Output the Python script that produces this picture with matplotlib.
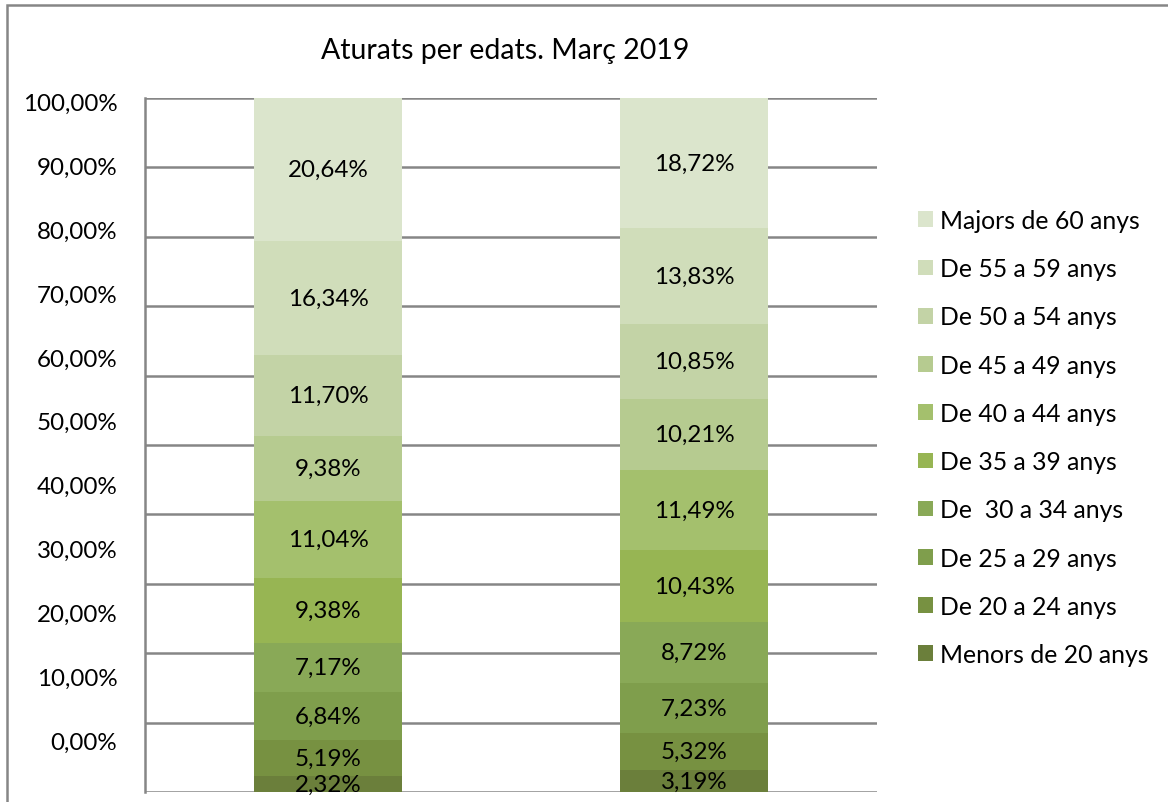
import matplotlib
matplotlib.use("Agg")
import matplotlib.pyplot as plt
from matplotlib.patches import Patch, Rectangle
import numpy as np

plt.rcParams['font.family'] = ['Lato', 'DejaVu Sans']

# data, bottom segment first
groups = ['Menors de 20 anys', 'De 20 a 24 anys', 'De 25 a 29 anys', 'De  30 a 34 anys',
          'De 35 a 39 anys', 'De 40 a 44 anys', 'De 45 a 49 anys', 'De 50 a 54 anys',
          'De 55 a 59 anys', 'Majors de 60 anys']
serie_1 = [2.32, 5.19, 6.84, 7.17, 9.38, 11.04, 9.38, 11.70, 16.34, 20.64]
serie_2 = [3.19, 5.32, 7.23, 8.72, 10.43, 11.49, 10.21, 10.85, 13.83, 18.72]
yticks = [0, 10, 20, 30, 40, 50, 60, 70, 80, 90, 100]

colors = ['#6b7f3b', '#779141', '#7f9e4c', '#89a957', '#97b553',
          '#a4c06d', '#b6cb90', '#c3d3a6', '#d0ddba', '#dbe5cc']
grid_c = '#868686'

fig = plt.figure(figsize=(11.68, 8.03), dpi=100)
W, H = 1168, 803

# outer chart frame (cropped on the right and bottom)
fig.patches.append(Rectangle((7 / W, -0.05), 1.2, 1 - 6 / H + 0.05, transform=fig.transFigure,
                             fill=False, edgecolor=grid_c, linewidth=1.8))

ax = fig.add_axes([145 / W, 1 - 793 / H, (877 - 145) / W, (793 - 99) / H])
ax.set_xlim(-0.5, 1.5)
ax.set_ylim(0, 100)

for y in yticks:
    ax.axhline(y, color=grid_c, linewidth=1.8, zorder=1)

x = np.arange(2)
bottoms = np.zeros(2)
for i in range(len(groups)):
    vals = np.array([serie_1[i], serie_2[i]])
    ax.bar(x, vals, 0.404, bottom=bottoms, color=colors[i], zorder=2, label=groups[i])
    for xi, v, b in zip(x, vals, bottoms):
        ax.text(xi, b + v / 2, f'{v:.2f}'.replace('.', ',') + '%', ha='center', va='center',
                fontsize=17.4, color='black', zorder=3)
    bottoms = bottoms + vals

ax.set_xticks([])
ax.set_yticks([])
for s in ['top', 'right', 'bottom']:
    ax.spines[s].set_visible(False)
ax.spines['left'].set_color(grid_c)
ax.spines['left'].set_linewidth(1.8)

# value axis labels (as placed in the original picture)
ax2 = ax.twinx()
ax2.set_ylim(-8.15, 100.58)
ax2.yaxis.set_ticks_position('left')
ax2.set_yticks(yticks)
ax2.set_yticklabels([f'{t:.2f}'.replace('.', ',') + '%' for t in yticks], fontsize=17.4)
ax2.tick_params(axis='y', length=0, pad=20)
for s in ax2.spines.values():
    s.set_visible(False)

fig.text(505 / W, 1 - 51 / H, 'Aturats per edats. Març 2019', ha='center', va='center', fontsize=20.5)

handles = [Patch(facecolor=colors[i], edgecolor='none', label=groups[i]) for i in range(len(groups))][::-1]
fig.legend(handles=handles, loc='center left', bbox_to_anchor=(918 / W, 1 - 438.5 / H),
           frameon=False, fontsize=17.8, handlelength=0.6, handleheight=0.6,
           handletextpad=0.3, labelspacing=1.02, borderpad=0, borderaxespad=0)

fig.savefig('out.png', dpi=100)
